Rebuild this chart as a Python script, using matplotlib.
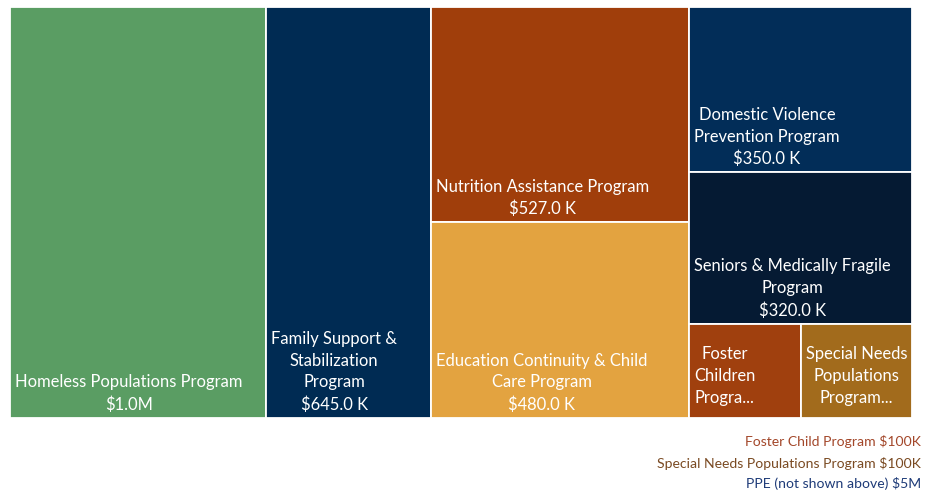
import matplotlib.pyplot as plt
from matplotlib.patches import Rectangle

plt.rcParams['font.family'] = ['Lato', 'DejaVu Sans']

# data
names = ["Homeless Populations Program", "Family Support & Stabilization Program",
         "Nutrition Assistance Program", "Education Continuity & Child Care Program",
         "Domestic Violence Prevention Program", "Seniors & Medically Fragile Program",
         "Foster Children Program", "Special Needs Populations Program"]
values = [1000, 645, 527, 480, 350, 320, 100, 100]  # $K
labels = ["Homeless Populations Program\n$1.0M",
          "Family Support &\nStabilization\nProgram\n$645.0 K",
          "Nutrition Assistance Program\n$527.0 K",
          "Education Continuity & Child\nCare Program\n$480.0 K",
          "Domestic Violence\nPrevention Program\n$350.0 K",
          "Seniors & Medically Fragile\nProgram\n$320.0 K",
          "Foster\nChildren\nProgra...",
          "Special Needs\nPopulations\nProgram..."]
colors = ["#5A9D63", "#002B53", "#A03E0B", "#E3A340",
          "#022D58", "#051A33", "#A0400E", "#A26B1C"]
# columns, then rows inside, then a nested row split
layout = [[0], [1], [2, 3], [4, 5, [6, 7]]]

notes = ["Foster Child Program $100K",
         "Special Needs Populations Program $100K",
         "PPE (not shown above) $5M"]
note_colors = ["#A3472A", "#7A4A22", "#1E3B78"]


def total(node):
    if isinstance(node, list):
        return sum(total(n) for n in node)
    return values[node]


def place(node, x, y, w, h, horizontal, out):
    if not isinstance(node, list):
        out[node] = (x, y, w, h)
        return
    s = total(node)
    pos = x if horizontal else y
    for n in node:
        frac = total(n) / s
        if horizontal:
            place(n, pos, y, w * frac, h, not horizontal, out)
            pos += w * frac
        else:
            place(n, x, pos, w, h * frac, not horizontal, out)
            pos += h * frac


fig = plt.figure(figsize=(9.31, 4.91), dpi=100)
ax = fig.add_axes([0, 0, 1, 1])
ax.set_xlim(0, 931)
ax.set_ylim(491, 0)
ax.axis('off')

rects = {}
place(layout, 10, 7, 902, 411, True, rects)

for i in range(len(values)):
    x, y, w, h = rects[i]
    ax.add_patch(Rectangle((x, y), w, h, facecolor=colors[i],
                           edgecolor='white', linewidth=1.3))
    pad = 12 if labels[i].endswith("...") else 5  # truncated labels sit higher
    ax.text(x + 5, y + h - pad, labels[i], color='white', fontsize=11.9,
            ha='left', va='bottom', multialignment='center', linespacing=1.45)

for k, t in enumerate(notes):
    ax.text(921, 442 + 21 * k, t, color=note_colors[k], fontsize=10.1,
            ha='right', va='center')

fig.savefig("out.png", dpi=100)
